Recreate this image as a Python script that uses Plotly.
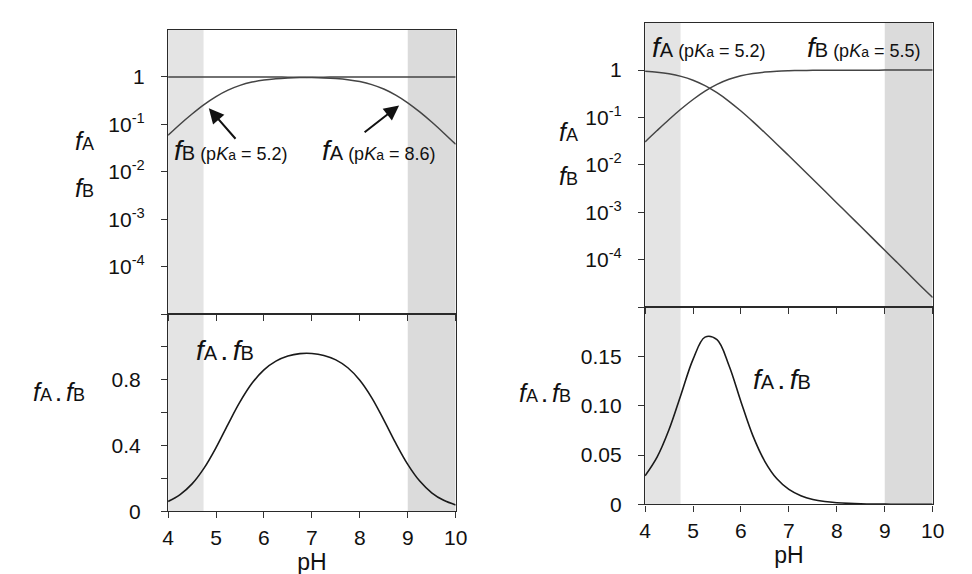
import plotly.graph_objects as go

# pH grid shared by all curves
ph = [4.0, 4.25, 4.5, 4.75, 5.0, 5.25, 5.5, 5.75, 6.0, 6.25, 6.5, 6.75, 7.0,
      7.25, 7.5, 7.75, 8.0, 8.25, 8.5, 8.75, 9.0, 9.25, 9.5, 9.75, 10.0]

# left panel: base pKa 5.2 (fB), acid pKa 8.6 (fA)
left_fb = [0.059, 0.101, 0.166, 0.262, 0.387, 0.529, 0.666, 0.780, 0.863, 0.918,
           0.952, 0.973, 0.984, 0.991, 0.995, 0.997, 0.998, 0.999, 0.999, 1.0,
           1.0, 1.0, 1.0, 1.0, 1.0]
left_fa = [1.0, 1.0, 1.0, 1.0, 1.0, 1.0, 0.999, 0.998, 0.997, 0.995,
           0.992, 0.986, 0.976, 0.957, 0.926, 0.876, 0.799, 0.691, 0.557, 0.414,
           0.285, 0.183, 0.112, 0.066, 0.038]
left_prod = [0.059, 0.101, 0.166, 0.262, 0.387, 0.529, 0.665, 0.778, 0.860, 0.913,
             0.944, 0.959, 0.960, 0.948, 0.921, 0.873, 0.797, 0.690, 0.556, 0.414,
             0.285, 0.183, 0.112, 0.066, 0.038]

# right panel: acid pKa 5.2 (fA), base pKa 5.5 (fB)
right_fa = [0.941, 0.899, 0.834, 0.738, 0.613, 0.471, 0.334, 0.220, 0.137, 0.0818,
            0.0477, 0.0274, 0.0156, 0.00883, 0.00499, 0.00281, 0.00158, 0.00089,
            0.000501, 0.000282, 0.000158, 8.9e-5, 5.0e-5, 2.8e-5, 1.6e-5]
right_fb = [0.0307, 0.0532, 0.0909, 0.151, 0.240, 0.360, 0.500, 0.640, 0.760, 0.849,
            0.909, 0.947, 0.969, 0.983, 0.990, 0.994, 0.997, 0.998, 0.999, 0.999,
            1.0, 1.0, 1.0, 1.0, 1.0]
right_prod = [0.0289, 0.0478, 0.0758, 0.1114, 0.1471, 0.1696, 0.167, 0.1408, 0.1041,
              0.0694, 0.0434, 0.0259, 0.0151, 0.0087, 0.0049, 0.0028, 0.0016, 0.0009,
              0.0005, 0.0003, 0.00016, 0.00009, 0.00005, 0.00003, 0.00002]

log_ticks = [1, 0.1, 0.01, 0.001, 0.0001]
log_text = ["1", "10<sup>-1</sup>", "10<sup>-2</sup>", "10<sup>-3</sup>", "10<sup>-4</sup>"]
left_lin_ticks = [0, 0.2, 0.4, 0.6, 0.8, 1.0, 1.2]
left_lin_text = ["0", "", "0.4", "", "0.8", "", ""]
right_lin_ticks = [0, 0.05, 0.10, 0.15, 0.2]
right_lin_text = ["0", "0.05", "0.10", "0.15", ""]
ph_ticks = [4, 5, 6, 7, 8, 9, 10]

FONT = "Liberation Sans, Arial, sans-serif"
W, H = 972, 574


def flab(letter, fs, ls):
    return (f"<i><span style='font-size:{fs}px'>f</span></i>"
            f"<span style='font-size:{ls}px'>{letter}</span>")


def pka(val):
    return (f"<span style='font-size:18px'> (p<i>K</i>"
            f"<span style='font-size:14px'>a</span> = {val})</span>")


def prod_lab(fs, ls):
    return flab("A", fs, ls) + f"<span style='font-size:{ls}px'> <b>.</b> </span>" + flab("B", fs, ls)


fig = go.Figure()

top_curve = dict(mode="lines", line=dict(color="#444444", width=1.5, shape="spline"),
                 showlegend=False, hoverinfo="skip")
bot_curve = dict(mode="lines", line=dict(color="#1a1a1a", width=1.6, shape="spline"),
                 showlegend=False, hoverinfo="skip")
fig.add_trace(go.Scatter(x=ph, y=left_fb, xaxis="x", yaxis="y", **top_curve))
fig.add_trace(go.Scatter(x=ph, y=left_fa, xaxis="x", yaxis="y", **top_curve))
fig.add_trace(go.Scatter(x=ph, y=left_prod, xaxis="x2", yaxis="y2", **bot_curve))
fig.add_trace(go.Scatter(x=ph, y=right_fa, xaxis="x3", yaxis="y3", **top_curve))
fig.add_trace(go.Scatter(x=ph, y=right_fb, xaxis="x3", yaxis="y3", **top_curve))
fig.add_trace(go.Scatter(x=ph, y=right_prod, xaxis="x4", yaxis="y4", **bot_curve))

left_x = [157 / W, 450 / W]
right_x = [643 / W, 936 / W]
lt_y = [1 - 312 / H, 1 - 22 / H]
lb_y = [1 - 513 / H, 1 - 312 / H]
rt_y = [1 - 305 / H, 1 - 15 / H]
rb_y = [1 - 506 / H, 1 - 305 / H]

axline = dict(showline=True, linecolor="#2a2a2a", linewidth=1.4, mirror=True,
              showgrid=False, zeroline=False, ticks="outside", ticklen=6,
              tickcolor="#333333", tickwidth=1.3,
              tickfont=dict(family=FONT, size=21, color="#111111"))

top_x = dict(axline, range=[4, 10], tickvals=ph_ticks, showticklabels=False)
bot_x = dict(axline, range=[4, 10], tickvals=ph_ticks, ticklabelstandoff=1,
             title=dict(text="pH", font=dict(family=FONT, size=23, color="#111111"), standoff=6))
log_y = dict(axline, type="log", range=[-5, 1], tickvals=log_ticks, ticktext=log_text,
             ticklabelstandoff=12)

fig.update_layout(
    width=W, height=H,
    margin=dict(l=0, r=0, t=0, b=0),
    paper_bgcolor="white",
    plot_bgcolor="rgba(0,0,0,0)",
    font=dict(family=FONT, color="#111111"),
    xaxis=dict(top_x, domain=left_x, anchor="y"),
    yaxis=dict(log_y, domain=lt_y, anchor="x"),
    xaxis2=dict(bot_x, domain=left_x, anchor="y2"),
    yaxis2=dict(axline, domain=lb_y, anchor="x2", range=[0, 1.2], ticklabelstandoff=16,
                tickvals=left_lin_ticks, ticktext=left_lin_text),
    xaxis3=dict(top_x, domain=right_x, anchor="y3"),
    yaxis3=dict(log_y, domain=rt_y, anchor="x3"),
    xaxis4=dict(bot_x, domain=right_x, anchor="y4"),
    yaxis4=dict(axline, domain=rb_y, anchor="x4", range=[0, 0.2], ticklabelstandoff=12,
                tickvals=right_lin_ticks, ticktext=right_lin_text),
)

# grey bands at pH 4-4.75 and 9-10 in every subplot
shapes = []
for xa, ya in [("x", "y"), ("x2", "y2"), ("x3", "y3"), ("x4", "y4")]:
    shapes.append(dict(type="rect", xref=xa, yref=f"{ya} domain", x0=4, x1=4.74, y0=0, y1=1,
                       fillcolor="#e4e4e4", line=dict(width=0), layer="below"))
    shapes.append(dict(type="rect", xref=xa, yref=f"{ya} domain", x0=9, x1=10, y0=0, y1=1,
                       fillcolor="#dbdbdb", line=dict(width=0), layer="below"))
fig.update_layout(shapes=shapes)

ann = []
# in-plot labels
ann.append(dict(x=5.3, y=-1.55, xref="x", yref="y", showarrow=False,
                text=flab("B", 28, 20) + pka("5.2")))
ann.append(dict(x=8.38, y=-1.55, xref="x", yref="y", showarrow=False,
                text=flab("A", 28, 20) + pka("8.6")))
ann.append(dict(x=4.85, y=-0.66, xref="x", yref="y", ax=28, ay=32, text="",
                showarrow=True, arrowhead=2, arrowsize=1.5, arrowwidth=2, arrowcolor="#111111"))
ann.append(dict(x=8.82, y=-0.6, xref="x", yref="y", ax=-36, ay=28, text="",
                showarrow=True, arrowhead=2, arrowsize=1.5, arrowwidth=2, arrowcolor="#111111"))
ann.append(dict(x=5.19, y=0.98, xref="x2", yref="y2", showarrow=False, text=prod_lab(28, 20)))
ann.append(dict(x=5.33, y=0.47, xref="x3", yref="y3", showarrow=False,
                text=flab("A", 28, 20) + pka("5.2")))
ann.append(dict(x=8.55, y=0.47, xref="x3", yref="y3", showarrow=False,
                text=flab("B", 28, 20) + pka("5.5")))
ann.append(dict(x=6.85, y=0.127, xref="x4", yref="y4", showarrow=False, text=prod_lab(28, 20)))

# axis-side labels
for x, y, t in [(72, 136, flab("A", 25, 18)), (72, 184, flab("B", 25, 18)),
                (565, 126, flab("A", 25, 18)), (565, 171, flab("B", 25, 18)),
                (46, 391, prod_lab(25, 18)), (541, 393, prod_lab(25, 18))]:
    ann.append(dict(x=x / W, y=1 - y / H, xref="paper", yref="paper", showarrow=False,
                    xanchor="center", yanchor="middle", text=t))

fig.update_layout(annotations=ann)

fig.write_html("out.html")
